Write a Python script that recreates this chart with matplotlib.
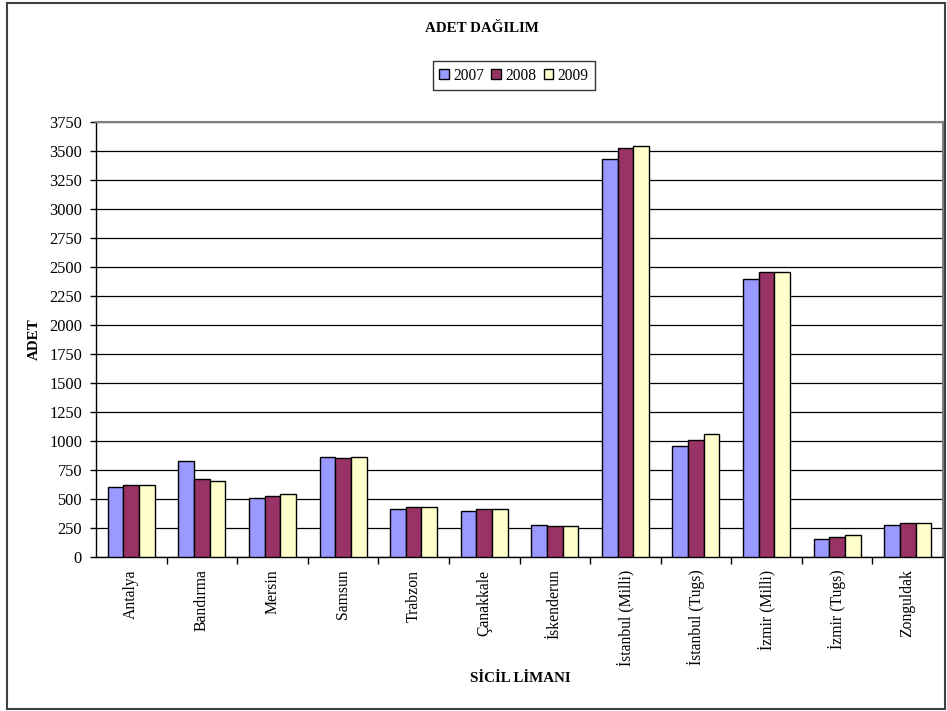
import matplotlib.pyplot as plt
import numpy as np
from matplotlib.patches import Rectangle

plt.rcParams['font.family'] = ['Liberation Serif', 'DejaVu Serif']

# sicil limanlarına göre yıllık adet
limanlar = ['Antalya', 'Bandırma', 'Mersin', 'Samsun', 'Trabzon', 'Çanakkale',
            'İskenderun', 'İstanbul (Milli)', 'İstanbul (Tugs)', 'İzmir (Milli)',
            'İzmir (Tugs)', 'Zonguldak']
adet_2007 = [606, 827, 511, 865, 414, 399, 278, 3434, 960, 2399, 155, 278]
adet_2008 = [621, 670, 523, 851, 428, 414, 264, 3529, 1009, 2457, 170, 290]
adet_2009 = [621, 658, 546, 865, 428, 414, 264, 3546, 1060, 2457, 192, 290]
yillar = ['2007', '2008', '2009']
renkler = ['#9999FF', '#993366', '#FFFFCC']

W, H = 947, 711
fig = plt.figure(figsize=(W / 100, H / 100), dpi=100)
fig.patch.set_facecolor('white')

# dış çerçeve
fig.patches.append(Rectangle((7 / W, 2 / H), 938 / W, 706 / H, transform=fig.transFigure,
                             fill=False, edgecolor='#404040', linewidth=1.5))

ax = fig.add_axes([96 / W, (H - 557) / H, 847 / W, 435 / H])

x = np.arange(len(limanlar))
genislik = 1 / 4.5  # Excel gap width 150%
for i, (seri, renk, yil) in enumerate(zip([adet_2007, adet_2008, adet_2009], renkler, yillar)):
    ax.bar(x + (i - 1) * genislik, seri, width=genislik, color=renk,
           edgecolor='black', linewidth=1, label=yil, zorder=3)

ax.set_xlim(-0.5, len(limanlar) - 0.5)
ax.set_ylim(0, 3750)
ax.set_yticks(np.arange(0, 3751, 250))
ax.yaxis.grid(True, color='black', linewidth=0.9, zorder=0)
ax.set_axisbelow(True)

ax.set_xticks(x)
ax.set_xticklabels(limanlar, rotation=90, fontsize=11.3, va='top')
ax.set_xticks(np.arange(0.5, len(limanlar) - 0.5, 1), minor=True)
ax.tick_params(axis='x', which='major', length=0, pad=9)
ax.tick_params(axis='x', which='minor', length=5, width=1, color='black', direction='out')
ax.tick_params(axis='y', length=4, width=1, color='black', labelsize=11.8, pad=6)

for s in ['top', 'right']:
    ax.spines[s].set_color('#808080')
    ax.spines[s].set_linewidth(1.5)
for s in ['left', 'bottom']:
    ax.spines[s].set_color('black')
    ax.spines[s].set_linewidth(1)

fig.text(482 / W, 1 - 29 / H, 'ADET DAĞILIM', ha='center', va='center',
         fontsize=10.8, fontweight='bold')
fig.text(34 / W, 1 - 339 / H, 'ADET', ha='center', va='center', rotation=90,
         fontsize=10.8, fontweight='bold')
fig.text(520 / W, 1 - 679 / H, 'SİCİL LİMANI', ha='center', va='center',
         fontsize=10.8, fontweight='bold')

leg = fig.legend(loc='center', bbox_to_anchor=(514 / W, 1 - 75.5 / H), ncol=3,
                 fontsize=11.2, frameon=True, fancybox=False, handlelength=0.6,
                 handleheight=0.6, handletextpad=0.3, columnspacing=0.45,
                 borderpad=0.4, borderaxespad=0)
leg.get_frame().set_edgecolor('black')
leg.get_frame().set_linewidth(1)
for h in leg.legend_handles:
    h.set_linewidth(1)

plt.savefig('out.png', dpi=100)
